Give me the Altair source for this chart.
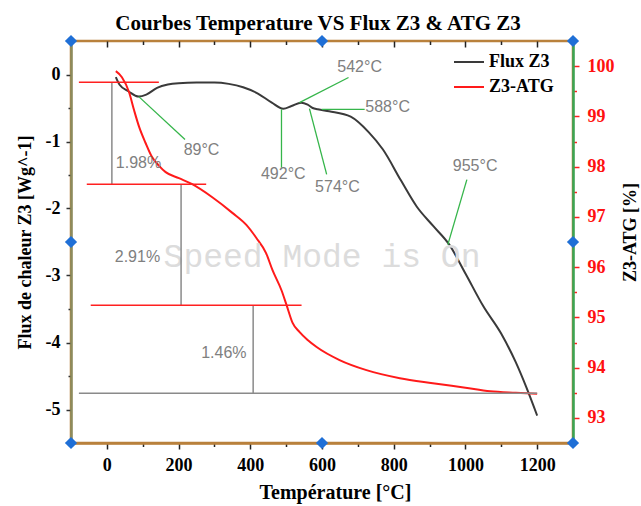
import altair as alt
import pandas as pd

# ---------------- data ----------------
FLUX_T = [25, 35, 60, 89, 110, 140, 170, 200, 250, 300, 340, 380, 420, 460, 492, 515, 542,
          560, 574, 588, 620, 680, 730, 770, 820, 864, 910, 955, 1000, 1050, 1100, 1140, 1170, 1200]
FLUX_V = [-0.04, -0.15, -0.25, -0.33, -0.30, -0.20, -0.15, -0.13, -0.12, -0.12, -0.14, -0.19,
          -0.28, -0.42, -0.51, -0.47, -0.42, -0.45, -0.50, -0.52, -0.55, -0.63, -0.86, -1.12,
          -1.58, -1.97, -2.26, -2.54, -2.97, -3.46, -3.87, -4.29, -4.67, -5.09]

ATG_T = [25, 42, 62, 76, 90, 108, 126, 145, 164, 201, 238, 294, 350, 389, 417, 444, 462, 487,
         501, 518, 537, 560, 585, 649, 724, 817, 909, 1000, 1069, 1140, 1200]
ATG_V = [99.90, 99.78, 99.48, 99.12, 98.79, 98.47, 98.19, 98.02, 97.89, 97.77, 97.65, 97.39,
         97.08, 96.84, 96.58, 96.28, 95.94, 95.54, 95.25, 94.89, 94.71, 94.55, 94.41, 94.15,
         93.95, 93.79, 93.69, 93.60, 93.53, 93.50, 93.48]

SERIES = ["Flux Z3", "Z3-ATG"]

STEP_X1 = [-78, -56, -45]
STEP_X2 = [145, 277, 543]
STEP_Y = [99.68, 97.65, 95.24]

GRAY_X1 = [14, 207, 408, -78]
GRAY_X2 = [14, 207, 408, 1200]
GRAY_Y1 = [99.68, 97.65, 95.24, 93.49]
GRAY_Y2 = [97.65, 95.24, 93.49, 93.49]

PCT_LABELS = ["1.98%", "2.91%", "1.46%"]
PCT_X = [25, 22, 263]
PCT_Y = [98.07, 96.20, 94.29]

TEMP_LABELS = ["89°C", "492°C", "542°C", "588°C", "574°C", "955°C"]
TEMP_X = [264, 492, 705, 783, 643, 1027]
TEMP_Y = [-1.134, -1.49, 0.119, -0.478, -1.672, -1.373]

LEAD_X1 = [89, 487, 537, 599, 565, 951]
LEAD_Y1 = [-0.33, -0.52, -0.42, -0.52, -0.51, -2.54]
LEAD_X2 = [218, 487, 674, 719, 613, 1004]
LEAD_Y2 = [-0.97, -1.39, -0.045, -0.52, -1.49, -1.57]

WATERMARK = ["Speed Mode is On"]
WM_X = [600]
WM_Y = [-2.73]

HANDLE_X = [-100, 600, 1300, -100, 1300, -100, 600, 1300]
HANDLE_Y = [0.5, 0.5, 0.5, -2.5, -2.5, -5.5, -5.5, -5.5]

X_TICKS = list(range(0, 1201, 100))
YL_TICKS = [-5 + 0.5 * i for i in range(11)]
YR_TICKS = [93 + 0.5 * i for i in range(15)]

# ---------------- styles ----------------
SERIF = "Liberation Serif"
SANS = "Liberation Sans"
ORANGE = "#b9813c"
OLIVE = "#8c8c5e"
GREEN = "#3aa655"
LEADER = "#35b54a"
GRAYTXT = "#808080"

xs = alt.Scale(domain=[-100, 1300], nice=False, zero=False)
yl = alt.Scale(domain=[-5.5, 0.5], nice=False, zero=False)
yr = alt.Scale(domain=[92.5, 100.5], nice=False, zero=False)

flux_df = pd.DataFrame({"T": FLUX_T, "V": FLUX_V, "series": SERIES[0]})
atg_df = pd.DataFrame({"T": ATG_T, "V": ATG_V, "series": SERIES[1]})
step_df = pd.DataFrame({"x1": STEP_X1, "x2": STEP_X2, "y": STEP_Y})
gray_df = pd.DataFrame({"x1": GRAY_X1, "x2": GRAY_X2, "y1": GRAY_Y1, "y2": GRAY_Y2})
pct_df = pd.DataFrame({"x": PCT_X, "y": PCT_Y, "t": PCT_LABELS})
temp_df = pd.DataFrame({"x": TEMP_X, "y": TEMP_Y, "t": TEMP_LABELS})
lead_df = pd.DataFrame({"x1": LEAD_X1, "x2": LEAD_X2, "y1": LEAD_Y1, "y2": LEAD_Y2})
wm_df = pd.DataFrame({"x": WM_X, "y": WM_Y, "t": WATERMARK})
handle_df = pd.DataFrame({"x": HANDLE_X, "y": HANDLE_Y})

color_scale = alt.Scale(domain=SERIES, range=["#3a3a3a", "#ff1a1a"])
color = alt.Color(
    "series:N", scale=color_scale,
    legend=alt.Legend(
        orient="none", legendX=382, legendY=5, title=None, symbolType="stroke",
        symbolSize=900, symbolStrokeWidth=2, labelFont=SERIF, labelFontSize=18,
        labelFontWeight="bold", labelColor="black", labelOffset=4, rowPadding=-8,
        padding=0,
    ),
)


def minor_dash(test, short):
    # major ticks solid; minor ticks shortened through a dash pattern
    return {"condition": {"test": test, "value": [20, 0]}, "value": [short, 20]}


x_bottom = alt.Axis(
    orient="bottom", values=X_TICKS,
    labelExpr="datum.value % 200 === 0 ? '' + datum.value : ''",
    tickSize=6, tickDash=minor_dash("datum.value % 200 === 0", 3.5),
    tickColor="#222", tickWidth=1.5, domainColor=ORANGE, domainWidth=2.5,
    labelFont=SERIF, labelFontSize=18, labelFontWeight="bold", labelColor="black",
    labelPadding=7, title="Température [°C]", titleFont=SERIF, titleFontSize=20,
    titleFontWeight="bold", titleColor="black", titleX=264, titleY=49,
    titleAlign="center", titleBaseline="middle", grid=False,
)

x_top = alt.Axis(
    orient="top", values=X_TICKS, labels=False, domain=False, offset=-6,
    tickSize=6, tickColor="#222", tickWidth=1.5,
    tickDash={"condition": {"test": "datum.value % 200 === 0", "value": [20, 0]},
              "value": [0, 2.5, 3.5, 0]},
    title=None, grid=False,
)

y_left = alt.Axis(
    orient="left", values=YL_TICKS,
    labelExpr="datum.value % 1 === 0 ? '' + datum.value : ''",
    tickSize=5, tickDash=minor_dash("datum.value % 1 === 0", 3),
    tickColor="#333", tickWidth=1.5, domainColor=OLIVE, domainWidth=2.5,
    labelFont=SERIF, labelFontSize=18, labelFontWeight="bold", labelColor="black",
    labelPadding=6, title="Flux de chaleur Z3 [Wg^-1]", titleFont=SERIF, titleFontSize=18,
    titleFontWeight="bold", titleColor="black", titleX=-46, titleY=201, titleAngle=270,
    titleAlign="center", titleBaseline="middle", grid=False,
)

y_right = alt.Axis(
    orient="right", values=YR_TICKS,
    labelExpr="datum.value % 1 === 0 ? '' + datum.value : ''",
    tickSize=6, tickDash=minor_dash("datum.value % 1 === 0", 3.5),
    tickColor="#ff2020", tickWidth=1.5, domainColor=GREEN, domainWidth=2.5,
    labelFont=SERIF, labelFontSize=18, labelFontWeight="bold", labelColor="#ff1010",
    labelPadding=8, title="Z3-ATG [%]", titleFont=SERIF, titleFontSize=18,
    titleFontWeight="bold", titleColor="black", titleX=57, titleY=191, titleAngle=270,
    titleAlign="center", titleBaseline="middle", grid=False,
)

# ---------------- layers (flat; every y scale has an explicit domain) ----------------
flux_line = alt.Chart(flux_df).mark_line(strokeWidth=2, interpolate="monotone").encode(
    x=alt.X("T:Q", scale=xs, axis=x_bottom),
    y=alt.Y("V:Q", scale=yl, axis=y_left),
    color=color,
)

atg_line = alt.Chart(atg_df).mark_line(strokeWidth=2, interpolate="monotone").encode(
    x=alt.X("T:Q", scale=xs, axis=x_top),
    y=alt.Y("V:Q", scale=yr, axis=y_right),
    color=alt.Color("series:N", scale=color_scale, legend=None),
)

wm = alt.Chart(wm_df).mark_text(
    font="Liberation Mono", fontSize=33, color="#dcdcdc", align="center", baseline="middle"
).encode(
    x=alt.X("x:Q", scale=xs, axis=None), y=alt.Y("y:Q", scale=yl, axis=None), text="t:N"
)

leaders = alt.Chart(lead_df).mark_rule(color=LEADER, strokeWidth=1.3).encode(
    x=alt.X("x1:Q", scale=xs, axis=None), x2="x2:Q",
    y=alt.Y("y1:Q", scale=yl, axis=None), y2="y2:Q",
)

temp_text = alt.Chart(temp_df).mark_text(
    font=SANS, fontSize=16, color=GRAYTXT, align="center", baseline="middle"
).encode(
    x=alt.X("x:Q", scale=xs, axis=None), y=alt.Y("y:Q", scale=yl, axis=None), text="t:N"
)

steps = alt.Chart(step_df).mark_rule(color="#ff2020", strokeWidth=1.5).encode(
    x=alt.X("x1:Q", scale=xs, axis=None), x2="x2:Q",
    y=alt.Y("y:Q", scale=yr, axis=None),
)

grays = alt.Chart(gray_df).mark_rule(color="#8a8a8a", strokeWidth=1.5).encode(
    x=alt.X("x1:Q", scale=xs, axis=None), x2="x2:Q",
    y=alt.Y("y1:Q", scale=yr, axis=None), y2="y2:Q",
)

pct_text = alt.Chart(pct_df).mark_text(
    font=SANS, fontSize=16, color=GRAYTXT, align="left", baseline="middle"
).encode(
    x=alt.X("x:Q", scale=xs, axis=None), y=alt.Y("y:Q", scale=yr, axis=None), text="t:N"
)

handles = alt.Chart(handle_df).mark_point(
    shape="diamond", filled=True, size=150, color="#1f6fd6", opacity=1
).encode(
    x=alt.X("x:Q", scale=xs, axis=None), y=alt.Y("y:Q", scale=yl, axis=None)
)

chart = alt.layer(
    flux_line, atg_line, wm, grays, steps, leaders, temp_text, pct_text, handles
).resolve_scale(
    y="independent"
).resolve_axis(
    x="independent", y="independent"
).properties(
    width=502, height=402,
    padding={"left": 71, "right": 68, "top": 41, "bottom": 63},
    autosize=alt.AutoSizeParams(type="none"),
    title=alt.TitleParams(
        "Courbes Temperature VS Flux Z3 & ATG Z3", font=SERIF, fontSize=21,
        fontWeight="bold", color="black", anchor="middle", offset=1, dx=-4,
    ),
).configure_view(stroke=ORANGE, strokeWidth=2.5)

chart.save("out.html", embed_options={"renderer": "svg", "actions": False})
